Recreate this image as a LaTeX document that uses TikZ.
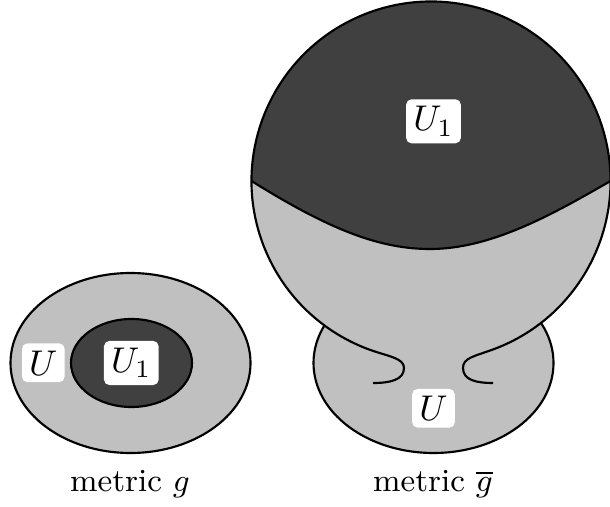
\documentclass[tikz,border=0pt]{standalone}
\usepackage{tikz}
\definecolor{lightfill}{RGB}{192,192,192}
\definecolor{darkfill}{RGB}{64,64,64}
\begin{document}
\begin{tikzpicture}[x=0.28pt,y=0.28pt,
  outline/.style={draw=black,line width=0.6pt},
  lightregion/.style={fill=lightfill},
  darkregion/.style={fill=darkfill},
  lab/.style={fill=white,rounded corners=1.5pt,inner sep=2pt},
  caption/.style={inner sep=0pt,anchor=base,font=\fontsize{9}{11}\selectfont}]
\useasboundingbox (0,0) rectangle (610,506);
% ---- metric g ----
\path[lightregion,outline] (130.5,143) ellipse[x radius=120,y radius=90];
\path[darkregion,outline] (131.5,143) ellipse[x radius=60.5,y radius=44];
\node[lab] (uL) at (43.3,143.2) {$U$};
\node[lab] (u1L) at (131.3,143) {$U_1$};
\node[caption] (capL) at (130,14.3) {metric $g$};
% ---- metric g bar ----
\path[lightregion,outline] (433.5,143) ellipse[x radius=120,y radius=90];
\path[lightregion] (431,325) circle[radius=179.5];
\path[darkregion] (251.5,325) .. controls (330,276) and (380,257) .. (430,257)
   .. controls (490,257) and (550,290) .. (610.5,325)
   arc[start angle=0,end angle=180,radius=179.5] -- cycle;
\draw[outline] (251.5,325) .. controls (330,276) and (380,257) .. (430,257)
   .. controls (490,257) and (550,290) .. (610.5,325);
\draw[outline] (493,123) .. controls (476,123) and (463,126) .. (463,138)
   .. controls (463,148) and (473.6,149.5) .. (492.4,156.3)
   arc[start angle=290,end angle=610,radius=179.5]
   .. controls (388.4,149.5) and (404,148) .. (404,138)
   .. controls (404,126) and (390,123) .. (373,123);
\node[lab] (u1R) at (433.5,384.7) {$U_1$};
\node[lab] (uR) at (433.5,97.7) {$U$};
\node[caption] (capR) at (433,14.3) {metric $\overline{g}$};
\end{tikzpicture}
\end{document}
